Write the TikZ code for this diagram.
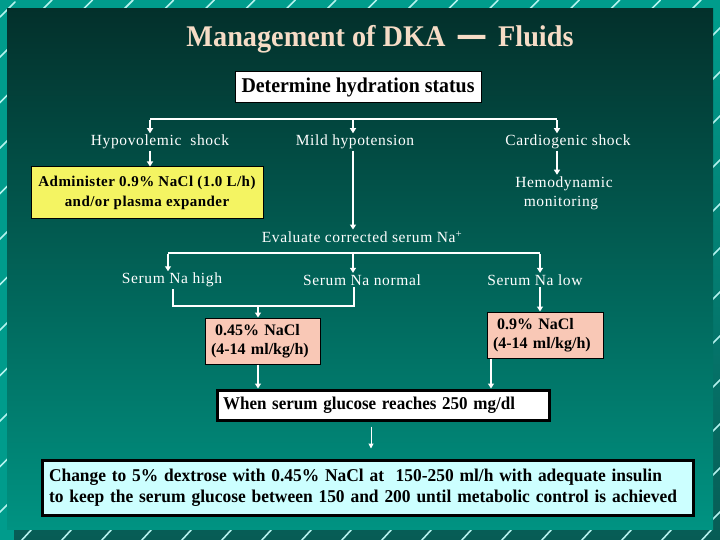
\documentclass[tikz,border=0pt]{standalone}
\usepackage{fontspec}
\setmainfont{Liberation Serif}
\newfontfamily\spc[LetterSpace=4]{Liberation Serif}
\newfontfamily\spcb[LetterSpace=3]{Liberation Serif}
\newfontfamily\dashfont{DejaVu Sans}
\usetikzlibrary{arrows.meta}
\definecolor{outerc}{HTML}{009C8C}
\definecolor{shadowc}{HTML}{075C55}
\definecolor{paneltop}{HTML}{03302B}
\definecolor{panelbot}{HTML}{009382}
\definecolor{slashc}{HTML}{B4F2EE}
\definecolor{titlec}{HTML}{F6DCC6}
\definecolor{yellowc}{HTML}{F4F462}
\definecolor{pinkc}{HTML}{F9C8B6}
\definecolor{cyanc}{HTML}{CCFFFF}
\newcommand{\fitw}[2]{\resizebox{#1}{\height}{#2}}
\tikzset{
  slashline/.style={draw=slashc, line width=1.6pt, line cap=round},
  lbl/.style={text=white, font=\spc\fontsize{15.5}{19}\selectfont, inner sep=1.5pt, align=center},
  conn/.style={draw=white, line width=2pt},
  arr/.style={conn, -{Triangle[length=5pt,width=6pt]}},
  thinarr/.style={draw=white, line width=1pt, -{Triangle[length=5pt,width=5pt]}},
  whitebox/.style={draw=black, fill=white, line width=1pt, text=black, inner sep=0pt},
  colbox/.style={draw=black, line width=1pt, text=black, inner sep=0pt},
  bigbox/.style={draw=black, line width=3pt, text=black, inner ysep=0pt}
}
\begin{document}
\begin{tikzpicture}[x=1pt,y=-1pt]
\useasboundingbox (0,0) rectangle (720,540);
% background
\fill[outerc] (0,0) rectangle (720,540);
\shade[top color=outerc, bottom color=shadowc] (14,16) rectangle (720,540);
\draw[slashline] (0,17) -- (15,2);
\foreach \k in {0,...,16} \draw[slashline] ({43+40.56*\k},9) -- ++(9,-9);
\foreach \k in {0,...,11} \draw[slashline] (712,{36+44*\k}) -- ++(9,-9);
\foreach \k in {0,...,10} \draw[slashline] (-1,{58+45.5*\k}) -- ++(9,-9);
\foreach \k in {0,...,17} \draw[slashline] ({21+40*\k},541) -- ++(11,-12);
% panel
\shade[top color=paneltop, bottom color=panelbot] (7,9) rectangle (713,529);
% title
\node[text=titlec, font=\bfseries\fontsize{30}{34}\selectfont, inner sep=0pt, anchor=base] (title) at (380,47)
  {\fitw{387pt}{Management of DKA\hspace{12pt}{\dashfont\bfseries\fontsize{33}{34}\selectfont —}\hspace{11pt}Fluids}};
% hydration
\node[whitebox, minimum width=246pt, minimum height=31pt, font=\bfseries\fontsize{21}{24}\selectfont] (hyd) at (358,87.5)
  {\fitw{233pt}{Determine hydration status}};
\coordinate (tl) at (150,119);
\coordinate (tm) at (353,119);
\coordinate (tr) at (557,119);
\draw[conn, line width=2.4pt] (tl) -- (tr);
\node[lbl] (hypo) at (160,142) {Hypovolemic\ \ shock};
\node[lbl] (mild) at (355,142) {Mild hypotension};
\node[lbl] (cardio) at (568,142) {Cardiogenic shock};
\draw[arr] ([yshift=-1pt]tl) -- (tl |- hypo.north);
\draw[arr] ([yshift=-1pt]tm) -- (tm |- mild.north);
\draw[arr] ([yshift=-1pt]tr) -- (tr |- cardio.north);
% second row
\node[colbox, fill=yellowc, minimum width=232pt, minimum height=52pt, align=center,
  font=\spcb\bfseries\fontsize{15}{20}\selectfont] (adm) at (147,193)
  {Administer 0.9\% NaCl (1.0 L/h)\\and/or plasma expander\hspace{6pt}};
\node[lbl] (hemo) at (564,193) {Hemodynamic\\\hspace{-6pt}monitoring};
\node[lbl] (eval) at (362,237) {Evaluate corrected serum Na\textsuperscript{+}};
\draw[arr] (hypo.south -| tl) -- (adm.north -| tl);
\draw[arr] (mild.south -| tm) -- (eval.north -| tm);
\draw[arr] (cardio.south -| tr) -- (hemo.north -| tr);
% sodium branch
\coordinate (sl) at (168,253);
\coordinate (sm) at (353,253);
\coordinate (sr) at (540,253);
\draw[conn, line width=2.4pt] (sl) -- (sr);
\node[lbl] (high) at (172,280) {Serum Na high};
\node[lbl] (normal) at (362,280) {Serum Na normal};
\node[lbl] (low) at (535,280) {Serum Na low};
\draw[arr] ([yshift=-1pt]sl) -- (sl |- high.north);
\draw[arr] ([yshift=-1pt]sm) -- (sm |- normal.north);
\draw[arr] ([yshift=-1pt]sr) -- (sr |- low.north);
% pink boxes
\node[colbox, fill=pinkc, minimum width=115pt, minimum height=46pt, text width=103pt, inner xsep=6pt, align=left,
  font=\bfseries\fontsize{16}{19}\selectfont] (b045) at (262.5,341)
  {\hspace{4pt}0.45\% NaCl\\(4-14 ml/kg/h)};
\node[colbox, fill=pinkc, minimum width=116pt, minimum height=46pt, text width=104pt, inner xsep=6pt, align=left,
  font=\bfseries\fontsize{16}{19}\selectfont] (b09) at (545,335)
  {\hspace{4pt}0.9\% NaCl\\(4-14 ml/kg/h)};
\coordinate (jl) at (173,306);
\coordinate (jm) at (258,306);
\coordinate (jr) at (354,306);
\draw[conn] (high.south -| jl) -- (jl) -- (jr) -- (normal.south -| jr);
\draw[arr] (jm) -- (b045.north -| jm);
\draw[arr] (low.south -| sr) -- (b09.north -| sr);
% glucose
\node[bigbox, fill=white, minimum width=332pt, minimum height=30pt, text width=320pt, inner xsep=6pt, align=left,
  font=\bfseries\fontsize{18}{20}\selectfont] (glu) at (383,405)
  {\fitw{292pt}{When serum glucose reaches 250 mg/dl}};
\coordinate (gl) at (258,0);
\coordinate (gr) at (491,0);
\draw[arr] (b045.south -| gl) -- (glu.north -| gl);
\draw[arr] (b09.south -| gr) -- (glu.north -| gr);
% final
\node[bigbox, fill=cyanc, minimum width=651pt, minimum height=55pt, text width=637pt, inner xsep=7pt, align=left,
  font=\bfseries\fontsize{18}{20.5}\selectfont] (fin) at (367.5,487.5)
  {\fitw{613pt}{Change to 5\% dextrose with 0.45\% NaCl at\ \ 150-250 ml/h with adequate insulin}\\
   \fitw{628pt}{to keep the serum glucose between 150 and 200 until metabolic control is achieved}};
\coordinate (fm) at (371,0);
\draw[thinarr, shorten <=5pt, shorten >=10pt] (glu.south -| fm) -- (fin.north -| fm);
\end{tikzpicture}
\end{document}
